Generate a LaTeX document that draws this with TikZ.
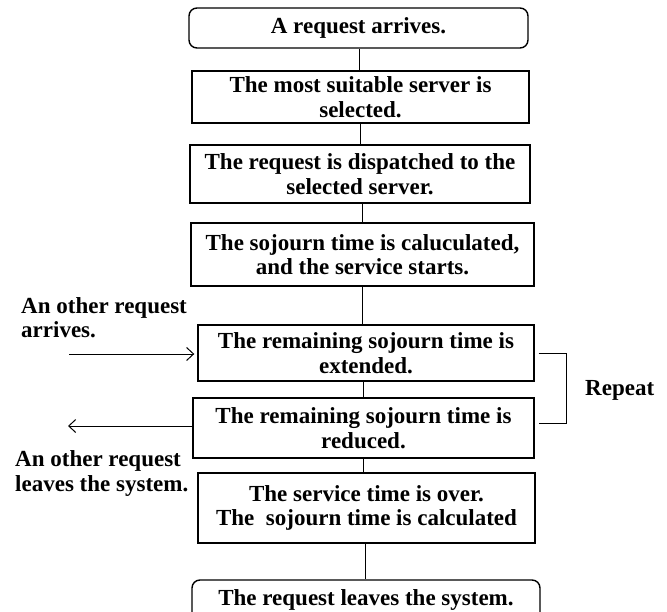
\documentclass[tikz,border=0pt]{standalone}
\usepackage{fontspec}
\setmainfont{Liberation Serif}
\usetikzlibrary{arrows.meta}
\begin{document}
\begin{tikzpicture}[x=1pt,y=-1pt,
  box/.style={draw,line width=1.4pt,inner sep=0pt,align=center,
    font=\fontsize{23}{24.5}\selectfont\bfseries},
  rbox/.style={box,rounded corners=8pt},
  lbl/.style={inner sep=0pt,font=\fontsize{23}{24.5}\selectfont\bfseries},
  conn/.style={line width=1pt},
  arr/.style={line width=1pt,-{Straight Barb[length=7pt,width=13pt]}}]
\useasboundingbox (0,0) rectangle (667,611);
\node[rbox,minimum width=339pt,minimum height=40pt] (b1) at (358.5,28) {A request arrives.};
\node[box,minimum width=337pt,minimum height=52pt] (b2) at (360.5,97) {The most suitable server is\\selected.};
\node[box,minimum width=340pt,minimum height=58pt] (b3) at (360,174) {The request is dispatched to the\\selected server.};
\node[box,minimum width=343pt,minimum height=63pt] (b4) at (362.5,254.5) {The sojourn time is caluculated,\\and the service starts.};
\node[box,minimum width=336pt,minimum height=56pt] (b5) at (366,353) {The remaining sojourn time is\\extended.};
\node[box,minimum width=341pt,minimum height=60pt] (b6) at (363.5,428) {The remaining sojourn time is\\reduced.};
\node[box,minimum width=337pt,minimum height=70pt] (b7) at (366.5,508) {The service time is over.\\The\ \ sojourn time is calculated};
\node[rbox,minimum width=348pt,minimum height=40pt] (b8) at (366,600) {The request leaves the system.};
\draw[conn] (b1.south) ++(1,0) coordinate (c1) -- (c1 |- b2.north);
\draw[conn] (b2.south) coordinate (c2) -- (c2 |- b3.north);
\draw[conn] (b3.south) ++(2,0) coordinate (c3) -- (c3 |- b4.north);
\draw[conn] (b4.south) coordinate (c4) -- (c4 |- b5.north);
\draw[conn] (b5.south) ++(-3,0) coordinate (c5) -- (c5 |- b6.north);
\draw[conn] (b6.south) coordinate (c6) -- (c6 |- b7.north);
\draw[conn] (b7.south) ++(-1.5,0) coordinate (c7) -- (c7 |- b8.north);
\node[lbl,align=left,anchor=west] (lin) at (21,317.5) {An other request\\arrives.};
\node[lbl,align=left,anchor=west] (lout) at (15,473.5) {An other request\\leaves the system.};
\node[lbl,anchor=west] (rep) at (585,390) {Repeat};
\coordinate (ain) at (69,354);
\coordinate (aout) at (68,426);
\draw[arr] (ain) -- ([xshift=-3pt]ain -| b5.west);
\draw[arr] (aout -| b6.west) -- (aout);
\coordinate (k1) at (566,353);
\coordinate (k2) at (566,423);
\draw[conn] ([xshift=4pt]k1 -| b5.east) -- (k1) -- (k2) -- ([xshift=4pt]k2 -| b6.east);
\end{tikzpicture}
\end{document}
